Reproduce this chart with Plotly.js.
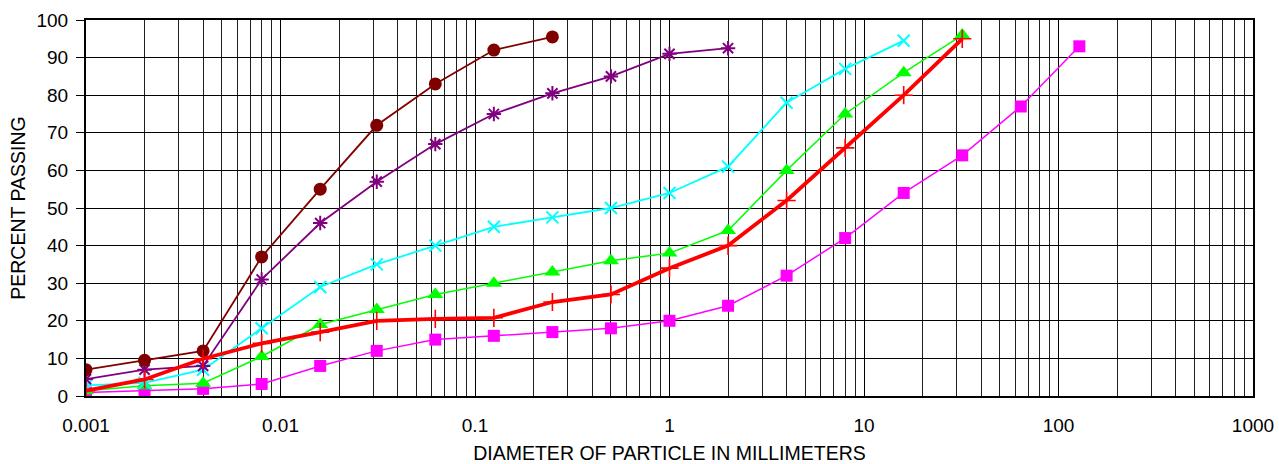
<!DOCTYPE html>
<html>
<head>
<meta charset="utf-8">
<script src="https://cdn.plot.ly/plotly-3.0.1.min.js"></script>
<style>
  html, body { margin: 0; padding: 0; background: #fff; }
  #chart { width: 1279px; height: 464px; }
</style>
</head>
<body>
<div id="chart"></div>
<script>
// Particle diameters (mm)
const diameters = [0.001, 0.002, 0.004, 0.008, 0.016, 0.03125, 0.0625, 0.125, 0.25, 0.5, 1, 2, 4, 8, 16, 32, 64, 128];

// Percent passing for each sample
const maroonSeries  = [7, 9.5, 12, 37, 55, 72, 83, 92, 95.5];
const purpleSeries  = [4.5, 7, 8, 31, 46, 57, 67, 75, 80.5, 85, 91, 92.5];
const cyanSeries    = [2.8, 3.5, 7, 18, 29, 35, 40, 45, 47.5, 50, 54, 61, 78, 87, 94.5];
const greenSeries   = [1.4, 2.7, 3.4, 10.5, 19, 23, 27, 30, 33, 36, 38, 44, 60, 75, 86, 96];
const redSeries     = [1.4, 4.4, 9.9, 14, 17, 20, 20.5, 20.8, 25, 27, 34, 40, 52, 66, 80, 95];
const magentaSeries = [0.9, 1.4, 1.9, 3.2, 8, 12, 15, 16, 17, 18, 20, 24, 32, 42, 54, 64, 77, 93];

const xTickVals = [0.001, 0.01, 0.1, 1, 10, 100, 1000];
const xTickText = ['0.001', '0.01', '0.1', '1', '10', '100', '1000'];
const yTickVals = [0, 10, 20, 30, 40, 50, 60, 70, 80, 90, 100];

function mk(ys, color, symbol, msize, lw, mlw) {
  return {
    x: diameters.slice(0, ys.length),
    y: ys,
    type: 'scatter',
    mode: 'lines+markers',
    line: { color: color, width: lw },
    marker: {
      symbol: symbol, size: msize, color: color,
      line: { color: color, width: mlw }
    },
    hoverinfo: 'x+y',
    showlegend: false
  };
}

const data = [
  mk(magentaSeries, '#FF00FF', 'square', 12, 1.5, 0),
  mk(greenSeries, '#00FF00', 'triangle-up', 14, 1.5, 0),
  mk(cyanSeries, '#00FFFF', 'x-thin-open', 12, 1.8, 2),
  mk(purpleSeries, '#800080', 'asterisk-open', 12, 1.8, 2),
  mk(maroonSeries, '#800000', 'circle', 13, 1.8, 0),
  mk(redSeries, '#FF0000', 'cross-thin-open', 13, 3.8, 1.6)
];

const fam = 'Liberation Sans, Arial, sans-serif';

const layout = {
  width: 1279, height: 464,
  margin: { l: 86, r: 26, t: 20, b: 68, pad: 0 },
  paper_bgcolor: '#fff', plot_bgcolor: '#fff',
  font: { family: fam, size: 18, color: '#000' },
  showlegend: false,
  xaxis: {
    type: 'log',
    range: [-3, 3],
    tickvals: xTickVals,
    ticktext: xTickText,
    ticks: '',
    showgrid: true, gridcolor: '#000', gridwidth: 1,
    minor: { dtick: 'D1', showgrid: true, gridcolor: '#202020', gridwidth: 1, ticks: '' },
    showline: true, linecolor: '#000', linewidth: 2, mirror: true,
    zeroline: false,
    tickfont: { family: fam, size: 19, color: '#000' },
    ticklabelstandoff: 11,
    title: { text: 'DIAMETER OF PARTICLE IN MILLIMETERS', font: { family: fam, size: 19.5, color: '#000' }, standoff: 12 }
  },
  yaxis: {
    range: [0, 100],
    tickvals: yTickVals,
    ticks: 'outside', ticklen: 8, tickcolor: '#000', tickwidth: 1,
    showgrid: true, gridcolor: '#000', gridwidth: 1,
    showline: true, linecolor: '#000', linewidth: 2, mirror: true,
    zeroline: false,
    tickfont: { family: fam, size: 19, color: '#000' },
    ticklabelstandoff: 4,
    title: { text: 'PERCENT PASSING', font: { family: fam, size: 19.5, color: '#000' }, standoff: 6 }
  }
};

Plotly.newPlot('chart', data, layout, { displayModeBar: false, staticPlot: true });
</script>
</body>
</html>
